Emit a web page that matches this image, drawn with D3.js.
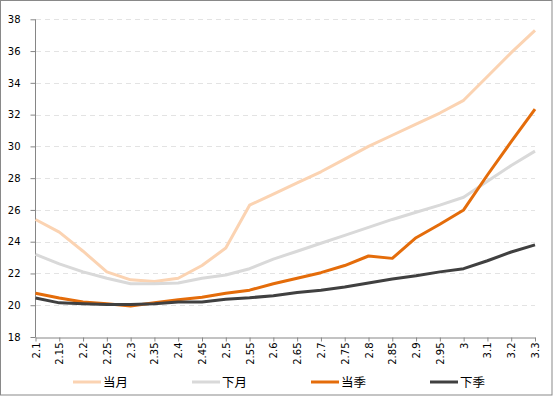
<!DOCTYPE html>
<html><head><meta charset="utf-8">
<script src="https://cdn.jsdelivr.net/npm/d3@7"></script>
<style>body{margin:0;background:#fff}svg{display:block}</style>
</head><body>
<script>
const categories = ["2.1","2.15","2.2","2.25","2.3","2.35","2.4","2.45","2.5","2.55","2.6","2.65","2.7","2.75","2.8","2.85","2.9","2.95","3","3.1","3.2","3.3"];
const dangYue = [25.4,24.6,23.4,22.1,21.6,21.5,21.7,22.5,23.6,26.3,27.0,27.7,28.4,29.2,30.0,30.7,31.4,32.1,32.9,34.4,35.9,37.3];
const xiaYue  = [23.2,22.6,22.1,21.7,21.35,21.35,21.4,21.7,21.9,22.3,22.9,23.4,23.9,24.4,24.9,25.4,25.85,26.3,26.8,27.8,28.8,29.7];
const dangJi  = [20.75,20.45,20.2,20.1,19.95,20.15,20.35,20.5,20.75,20.95,21.35,21.7,22.05,22.5,23.1,22.95,24.25,25.1,26.0,28.2,30.3,32.35];
const xiaJi   = [20.45,20.15,20.1,20.05,20.05,20.1,20.2,20.2,20.38,20.47,20.6,20.8,20.95,21.15,21.4,21.65,21.85,22.1,22.3,22.8,23.35,23.8];
const yTicks = [18,20,22,24,26,28,30,32,34,36,38];
const seriesNames = ["当月","下月","当季","下季"];
const seriesColors = ["#FBD3B2","#D9D9D9","#E46C0A","#404040"];
const seriesData = [dangYue, xiaYue, dangJi, xiaJi];

const W = 554, H = 397;
const svg = d3.select("body").append("svg").attr("width", W).attr("height", H);
svg.append("rect").attr("x",0.5).attr("y",0.5).attr("width",551.5).attr("height",394.5)
  .attr("fill","#fff").attr("stroke","#898989").attr("stroke-width",1);

const x = d3.scalePoint().domain(categories).range([35.5, 535]);
const y = d3.scaleLinear().domain([18, 38]).range([337, 19.3]);

// gridlines
svg.append("g").selectAll("line").data(yTicks.filter(d => d > 18)).join("line")
  .attr("x1", 36).attr("x2", 535)
  .attr("y1", d => Math.round(y(d)) + 0.5).attr("y2", d => Math.round(y(d)) + 0.5)
  .attr("stroke", "#e3e3e3").attr("stroke-dasharray", "5,4").attr("stroke-width", 1);

// axes
const yAxis = svg.append("g").attr("transform", "translate(35.5,0)")
  .call(d3.axisLeft(y).tickValues(yTicks).tickSize(5).tickPadding(10).tickFormat(d3.format("d")));
const xAxis = svg.append("g").attr("transform", "translate(0,337.5)")
  .call(d3.axisBottom(x).tickSize(4).tickSizeOuter(0));
[yAxis, xAxis].forEach(g => {
  g.select(".domain").attr("stroke", "#868686");
  g.selectAll(".tick line").attr("stroke", "#868686");
  g.selectAll("text").attr("fill", "#000").attr("font-family", "'DejaVu Sans', Verdana, sans-serif").attr("font-size", "10px");
});
yAxis.select(".domain").attr("d", "M0,337.5V19.3");
xAxis.selectAll(".tick text")
  .attr("transform", "rotate(-90)")
  .attr("text-anchor", "end")
  .attr("x", -5).attr("y", 0).attr("dy", "0.35em");

// lines
const line = d3.line().x((d, i) => x(categories[i])).y(d => y(d));
svg.append("g").selectAll("path").data(seriesData).join("path")
  .attr("d", d => line(d))
  .attr("fill", "none")
  .attr("stroke", (d, i) => seriesColors[i])
  .attr("stroke-width", 3)
  .attr("stroke-linejoin", "round");

// legend
const legendX = [73, 192, 311, 430];
const lg = svg.append("g").selectAll("g").data(seriesNames).join("g")
  .attr("transform", (d, i) => `translate(${legendX[i]},382)`);
lg.append("line").attr("x1", 0).attr("x2", 28).attr("y1", 0).attr("y2", 0)
  .attr("stroke", (d, i) => seriesColors[i]).attr("stroke-width", 3);
lg.append("text").attr("x", 30).attr("y", 0).attr("dy", "0.36em")
  .attr("font-family", "'Noto Sans CJK SC', sans-serif").attr("font-size", "12.5px").attr("fill", "#000")
  .text(d => d);
</script>
</body></html>
